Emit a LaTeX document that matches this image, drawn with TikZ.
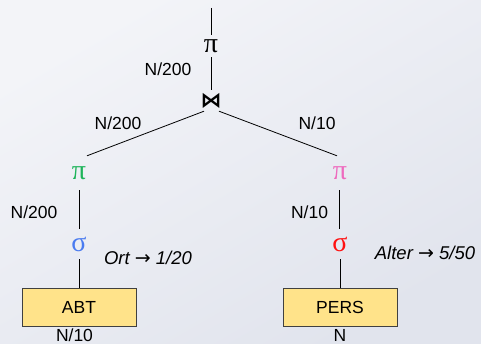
\documentclass[tikz,border=0pt]{standalone}
\usepackage{fontspec}
\setmainfont{Liberation Sans}
\newfontfamily\grk{Liberation Serif}
\newfontfamily\dvs{DejaVu Sans}
\definecolor{bgA}{HTML}{F3F4F8}
\definecolor{bgB}{HTML}{E1E4ED}
\definecolor{boxfill}{HTML}{FFE38A}
\definecolor{boxline}{HTML}{404040}
\definecolor{opgreen}{HTML}{1EB45A}
\definecolor{opblue}{HTML}{4A7BF0}
\definecolor{oppink}{HTML}{EE6ABE}
\definecolor{opred}{HTML}{FF1010}
\newcommand{\arr}{{\dvs\itshape\fontsize{19}{20}\selectfont →}}
\tikzset{
  txt/.style={inner sep=0pt, anchor=base, font=\fontsize{17.5}{20}\selectfont},
  itx/.style={txt, font=\fontsize{18.5}{20}\selectfont\itshape},
  op/.style={inner sep=0pt, minimum width=16pt, font=\grk\fontsize{28}{28}\selectfont},
  rel/.style={draw=boxline, fill=boxfill, line width=0.8pt, minimum width=114pt, minimum height=38.5pt, inner sep=0pt, font=\fontsize{17.5}{20}\selectfont},
  edge/.style={draw=black, line width=0.8pt}
}
\begin{document}
\begin{tikzpicture}[x=1pt,y=-1pt]
\shade[top color=bgA, bottom color=bgB, shading angle=30] (0,0) rectangle (481,344);
\useasboundingbox (0,0) rectangle (481,344);
% operator nodes
\coordinate (top) at (211,8);
\node[op, minimum height=22pt] (piT) at (211,46) {π};
\node[op, minimum height=21pt, font=\dvs\bfseries\fontsize{21}{22}\selectfont] (join) at (211,100.5) {⋈};
\node[op, minimum height=34pt, text=opgreen] (piL) at (79,173) {π};
\node[op, minimum height=30pt, text=opblue] (sigL) at (79,244) {σ};
\node[op, minimum height=34pt, text=oppink] (piR) at (340,173) {π};
\node[op, minimum height=30pt, text=opred] (sigR) at (340,244) {σ};
\node[rel] (abt) at (79,307.5) {ABT};
\node[rel] (pers) at (340,307.5) {PERS};
% connectors
\draw[edge] (top) -- (piT.north);
\draw[edge] (piT.south) -- (join.north);
\draw[edge] ([xshift=-7pt]join.south) -- ([xshift=8pt]piL.north);
\draw[edge] ([xshift=8pt]join.south) -- ([xshift=-3pt]piR.north);
\draw[edge] (piL.south) -- (sigL.north);
\draw[edge] (sigL.south) -- (abt.north);
\draw[edge] ([xshift=-1pt]piR.south) -- ([xshift=-1pt]sigR.north);
\draw[edge] (sigR.south) -- (pers.north);
% labels
\node[txt] (l1) at (168,76) {N/200};
\node[txt] (l2) at (118,130) {N/200};
\node[txt] (l3) at (317,130) {N/10};
\node[txt] (l4) at (34,219) {N/200};
\node[txt] (l5) at (309.5,219) {N/10};
\node[itx] (l6) at (148,265) {Ort \arr{} 1/20};
\node[itx] (l7) at (425,259) {Alter \arr{} 5/50};
\node[txt] (l8) at (74.5,341.5) {N/10};
\node[txt] (l9) at (340,341.5) {N};
\end{tikzpicture}
\end{document}
